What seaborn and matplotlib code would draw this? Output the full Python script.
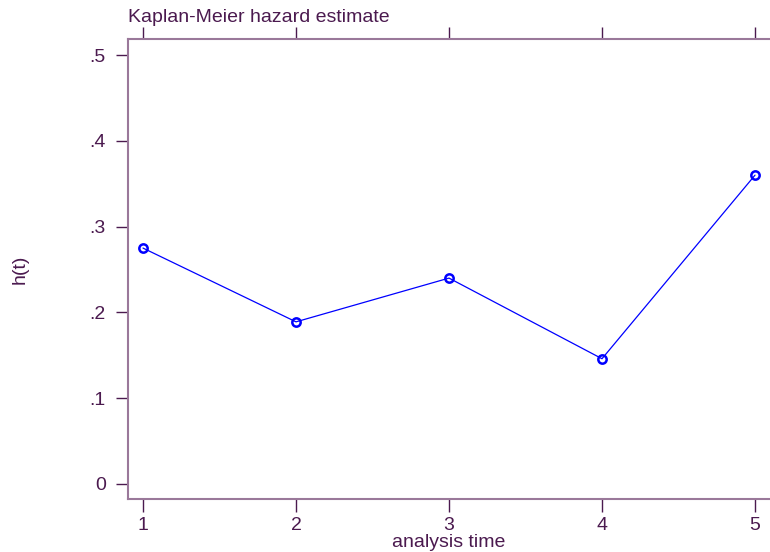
import matplotlib
matplotlib.use("Agg")
import matplotlib.pyplot as plt
import seaborn as sns
import pandas as pd

# Kaplan-Meier hazard estimates by analysis time
times = [1, 2, 3, 4, 5]
hazard = [0.275, 0.189, 0.240, 0.146, 0.360]
yticks = [0, 0.1, 0.2, 0.3, 0.4, 0.5]
ytick_labels = ["0", ".1", ".2", ".3", ".4", ".5"]

sns.set_style("white")
plt.rcParams["font.family"] = ["Liberation Sans", "DejaVu Sans"]

text_col = "#4b1a4f"
spine_col = "#9a789a"
fs = 14

df = pd.DataFrame({"analysis time": times, "h(t)": hazard})

fig = plt.figure(figsize=(7.7, 5.52), dpi=100)
ax = fig.add_axes([128 / 770, 53 / 552, 642 / 770, 460 / 552])

sns.lineplot(data=df, x="analysis time", y="h(t)", ax=ax, color="#0000ff",
             linewidth=0.9, marker="o", markersize=6, markerfacecolor="none",
             markeredgecolor="#0000ff", markeredgewidth=1.8)

ax.set_xlim(0.902, 5.098)
ax.set_ylim(-0.0175, 0.5187)
ax.set_xticks(times)
ax.set_xticklabels([str(t) for t in times])
ax.set_yticks(yticks)
ax.set_yticklabels(ytick_labels)

for side in ("left", "bottom", "top"):
    ax.spines[side].set_visible(True)
    ax.spines[side].set_color(spine_col)
    ax.spines[side].set_linewidth(1.5)
ax.spines["right"].set_visible(False)

ax.tick_params(axis="both", which="both", direction="out", length=9, width=1,
               color=text_col, labelcolor=text_col, labelsize=fs, pad=4)
ax.tick_params(axis="x", top=True, labeltop=False, bottom=True)
ax.tick_params(axis="y", left=True, right=False, pad=7)

ax.set_xlabel("analysis time", color=text_col, fontsize=fs, labelpad=0)
ax.set_ylabel("h(t)", color=text_col, fontsize=fs, labelpad=44)
ax.set_title("Kaplan-Meier hazard estimate", loc="left", color=text_col,
             fontsize=fs, pad=12)

fig.savefig("out.png", dpi=100)
